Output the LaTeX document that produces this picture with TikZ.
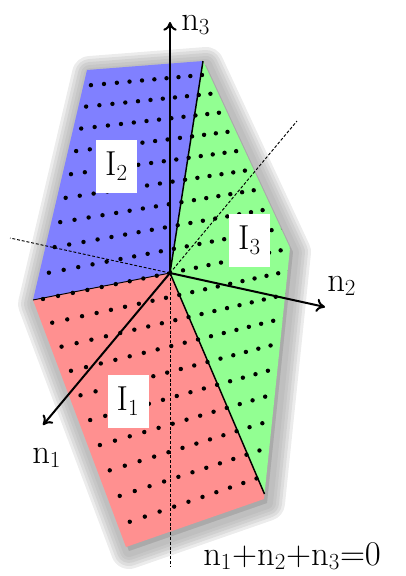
\documentclass[tikz,border=0pt]{standalone}
\usepackage{tikz}
\usetikzlibrary{arrows.meta}
\definecolor{myblue}{RGB}{128,128,255}
\definecolor{mygreen}{RGB}{146,255,146}
\definecolor{myred}{RGB}{255,144,144}
\definecolor{myshadow}{RGB}{160,160,160}
\newcommand\hullpath{(87,70) -- (203,61) -- (290,248) -- (264,499) -- (126,547) -- (33,300) -- cycle}

\begin{document}
\begin{tikzpicture}[x=0.75pt,y=-0.75pt,>={To[length=6.5pt,width=10pt]},
    axis/.style={line width=1.5pt,->},
    negaxis/.style={line width=0.7pt,dash pattern=on 2.2pt off 1.4pt},
    border/.style={line width=1.1pt},
    regionlabel/.style={fill=white,minimum width=30.75pt,minimum height=39.75pt,inner sep=0pt,
      font=\fontsize{26}{31}\selectfont},
    axislabel/.style={inner sep=0pt,anchor=base west,font=\fontsize{26}{31}\selectfont}]
  \useasboundingbox (0,0) rectangle (406,576);
  \coordinate (O)  at (170,273);
  \coordinate (tl) at (87,70);
  \coordinate (tr) at (203,61);
  \coordinate (r)  at (290,248);
  \coordinate (g)  at (264.5,494);
  \coordinate (br) at (264,499);
  \coordinate (b)  at (126,547);
  \coordinate (l)  at (33,300);
  % soft shadow
  \begin{scope}[shift={(3,4)}]
    \foreach \w in {36,30,24,18,12}
      \filldraw[myshadow,opacity=0.2,line width=\w*0.75pt,line join=round] \hullpath;
  \end{scope}
  \fill[myblue]  (tl) -- (tr) -- (O) -- (l) -- cycle;
  \fill[mygreen] (tr) -- (r) -- (g) -- (O) -- cycle;
  \fill[myred]   (l) -- (O) -- (g) -- (br) -- (b) -- cycle;
  % lattice points
  \begin{scope}
    \clip \hullpath;
    \foreach \i in {-11,...,11}
      \foreach \j in {-11,...,11} {
        \pgfmathsetmacro\dd{1+(0.0688*\i-0.1136*\j)/9}
        \pgfmathsetmacro\px{170+(118.26*\i-35.64*\j)/(9*\dd)}
        \pgfmathsetmacro\py{273+(220.5*\j-24.21*\i)/(9*\dd)}
        \fill (\px,\py) circle[radius=2.2];
      }
  \end{scope}
  \draw[border] (O) -- (tr);
  \draw[border] (O) -- (g);
  \draw[line width=0.7pt] (O) -- (l);
  \coordinate (m1) at (297,121);
  \coordinate (m2) at (10,238);
  \coordinate (m3) at (170,566);
  \draw[negaxis] (O) -- (m1);
  \draw[negaxis] (O) -- (m2);
  \draw[negaxis] (O) -- (m3);
  \coordinate (n1tip) at (43,425);
  \coordinate (n2tip) at (325,307);
  \coordinate (n3tip) at (170,22);
  \draw[axis] (O) -- (n1tip);
  \draw[axis] (O) -- (n2tip);
  \draw[axis] (O) -- (n3tip);
  \node[axislabel] (n1lab) at (32,463) {n$_1$};
  \node[axislabel] (n2lab) at (327,291) {n$_2$};
  \node[axislabel] (n3lab) at (181,30) {n$_3$};
  \node[axislabel] (sumlab) at (203,565) {n$_1$+n$_2$+n$_3$=0};
  \node[regionlabel] (I1) at (128,401.5) {I$_1$};
  \node[regionlabel] (I2) at (116.5,166) {I$_2$};
  \node[regionlabel] (I3) at (249.5,240) {I$_3$};
\end{tikzpicture}
\end{document}
